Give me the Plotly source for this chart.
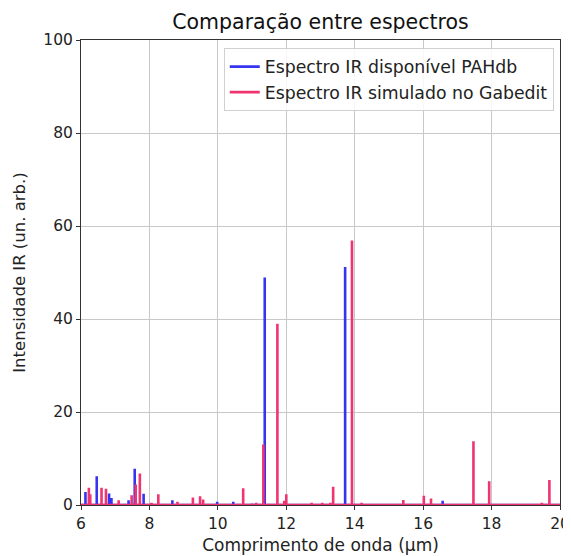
import plotly.graph_objects as go

# Peak positions (µm) and intensities
pahdb_pos = [6.13, 6.46, 6.82, 6.89, 7.39, 7.57, 7.83, 8.67, 9.98, 10.45, 11.0, 11.37, 13.72, 16.57]
pahdb_int = [2.8, 6.2, 2.5, 1.5, 1.0, 7.8, 2.4, 1.0, 0.7, 0.7, 0.3, 48.9, 51.2, 0.9]

gabedit_pos = [6.23, 6.27, 6.6, 6.73, 7.1, 7.48, 7.6, 7.72, 8.06, 8.26, 8.82, 9.27, 9.48, 9.57,
               10.74, 11.12, 11.33, 11.74, 11.94, 12.0, 12.74, 13.05, 13.29, 13.37, 13.92,
               14.2, 15.42, 16.02, 16.23, 17.47, 17.93, 19.47, 19.69]
gabedit_int = [3.7, 2.3, 3.7, 3.5, 1.0, 2.1, 4.4, 6.8, 0.5, 2.3, 0.7, 1.6, 1.9, 1.2,
               3.6, 0.5, 13.0, 39.0, 0.9, 2.3, 0.5, 0.5, 0.5, 3.9, 56.9,
               0.5, 1.1, 2.0, 1.4, 13.7, 5.1, 0.5, 5.4]

x_ticks = [6, 8, 10, 12, 14, 16, 18, 20]
y_ticks = [0, 20, 40, 60, 80, 100]
x_min, x_max = 6, 20


def spectrum(pos, inten):
    xs, ys = [x_min], [0]
    for p, h in sorted(zip(pos, inten)):
        xs += [p, p, p]
        ys += [0, h, 0]
    xs.append(x_max)
    ys.append(0)
    return xs, ys


bx, by = spectrum(pahdb_pos, pahdb_int)
rx, ry = spectrum(gabedit_pos, gabedit_int)

blue = "#3535f0"
red = "#f03470"

fig = go.Figure()
fig.add_trace(go.Scatter(x=bx, y=by, mode="lines", name="Espectro IR disponível PAHdb",
                         line=dict(color=blue, width=2.6)))
fig.add_trace(go.Scatter(x=rx, y=ry, mode="lines", name="Espectro IR simulado no Gabedit",
                         line=dict(color=red, width=2.6)))

# page body has an 8px margin; figure is offset by (8, 8)
W, H = 563, 548
font = "DejaVu Sans, sans-serif"
fig.update_layout(
    width=W, height=H,
    margin=dict(l=73, r=11, t=32, b=51, autoexpand=False),
    paper_bgcolor="white", plot_bgcolor="white",
    font=dict(family=font, size=16, color="#222"),
    title=dict(text="Comparação entre espectros", x=(73 + 552) / 2 / W, xanchor="center",
               y=1 - 14 / H, yanchor="middle", font=dict(size=20.5, color="#111")),
    legend=dict(x=0.987, y=0.983, xanchor="right", yanchor="top",
                bgcolor="rgba(255,255,255,0.85)", bordercolor="#d0d0d0", borderwidth=1,
                font=dict(size=17.3, color="#222"), tracegroupgap=0, itemwidth=30),
    showlegend=True,
)
axis_common = dict(showgrid=True, gridcolor="#c8c8c8", gridwidth=1,
                   showline=True, linecolor="#333", linewidth=1, mirror=True,
                   ticks="outside", ticklen=4, tickcolor="#333", zeroline=False,
                   automargin=False,
                   tickfont=dict(size=15.5, color="#222"))
fig.update_xaxes(range=[x_min, x_max], tickvals=x_ticks,
                 title=dict(text="Comprimento de onda (µm)", font=dict(size=17), standoff=7),
                 **axis_common)
fig.update_yaxes(range=[0, 100], tickvals=y_ticks,
                 title=dict(text="Intensidade IR (un. arb.)", font=dict(size=16.5), standoff=13),
                 **axis_common)

fig.write_html("out.html")
